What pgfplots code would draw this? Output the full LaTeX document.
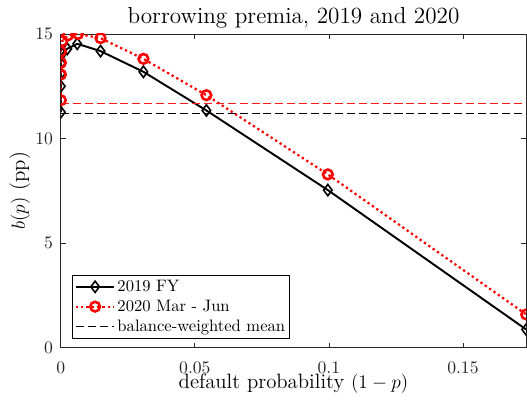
\documentclass[border=0pt]{standalone}
\usepackage{fontspec}
\usepackage{pgfplots}
\pgfplotsset{compat=1.18}

\definecolor{axgray}{rgb}{0.15,0.15,0.15}

% borrowing premium b(p) against default probability (1-p)
\pgfplotstableread{
x       b
0       11.26
0       12.50
0       13.10
0       13.60
0.0005  14.05
0.0024  14.29
0.0061  14.53
0.0148  14.18
0.0308  13.19
0.0543  11.34
0.0996  7.53
0.1736  0.86
}\premiaFY

\pgfplotstableread{
x       b
0       11.83
0       13.06
0       13.62
0       14.16
0.0005  14.66
0.0026  14.93
0.0064  15.00
0.0148  14.80
0.0308  13.81
0.0543  12.07
0.0996  8.28
0.1736  1.58
}\premiaMarJun

\begin{document}
\begin{tikzpicture}
\useasboundingbox (-37.8pt,-32.2pt) rectangle (289.5pt,215.8pt);
\begin{axis}[
  scale only axis,
  width=289pt, height=194.7pt,
  xmin=0, xmax=0.1736, ymin=0, ymax=15,
  xtick={0,0.05,0.1,0.15},
  xticklabels={$0$,$0.05$,$0.1$,$0.15$},
  ytick={0,5,10,15},
  tick align=inside,
  major tick length=3pt,
  axis line style={axgray, line width=0.5pt},
  tick style={axgray, line width=0.5pt},
  tick label style={font=\fontsize{10.95}{13}\selectfont, text=axgray},
  xticklabel style={yshift=-5.8pt},
  yticklabel style={xshift=-1.4pt},
  clip marker paths=true,
  every axis title shift=0pt,
  title={borrowing premia, 2019 and 2020},
  title style={font=\fontsize{14.4}{17}\selectfont, at={(axis description cs:0.5,1.032)}, anchor=base},
  xlabel={default probability $(1-p)$},
  xlabel style={font=\fontsize{12.9}{15}\selectfont, at={(axis description cs:0.5,-0.13)}, anchor=base},
  ylabel={$b(p)$ (pp)},
  ylabel style={font=\fontsize{12.9}{15}\selectfont, at={(axis description cs:-0.077,0.5)}, anchor=base},
  legend cell align=left,
  legend style={
    at={(axis description cs:0.0236,0.0287)}, anchor=south west,
    font=\fontsize{10.3}{12}\selectfont,
    draw=black, line width=0.5pt,
    inner xsep=1.5pt, inner ysep=1.6pt,
    row sep=1.4pt,
    nodes={inner sep=1.2pt},
  },
  legend image code/.code={
    \draw[mark repeat=2, mark phase=2] plot coordinates {(0pt,0pt) (12pt,0pt) (24pt,0pt)};
  },
]
\addplot[black, line width=1.2pt, mark=diamond, mark size=3.5pt,
  mark options={solid, line width=1pt}] table[x=x, y=b] {\premiaFY};
\addlegendentry{2019 FY}

\addplot[red, line width=1.4pt, dash pattern=on 1.4pt off 1.9pt,
  mark=o, mark size=3pt, mark options={solid, line width=1.6pt}] table[x=x, y=b] {\premiaMarJun};
\addlegendentry{2020 Mar - Jun}

\addplot[black, line width=0.8pt, dash pattern=on 5pt off 2.4pt]
  coordinates {(0,11.21) (0.1736,11.21)};
\addlegendentry{balance-weighted mean}

% mean of the 2020 sample, same dashing in a lighter red
\addplot[color=red!90!white, line width=1.1pt, dash pattern=on 5pt off 2.4pt, forget plot]
  coordinates {(0,11.67) (0.1736,11.67)};
\end{axis}
\end{tikzpicture}
\end{document}
